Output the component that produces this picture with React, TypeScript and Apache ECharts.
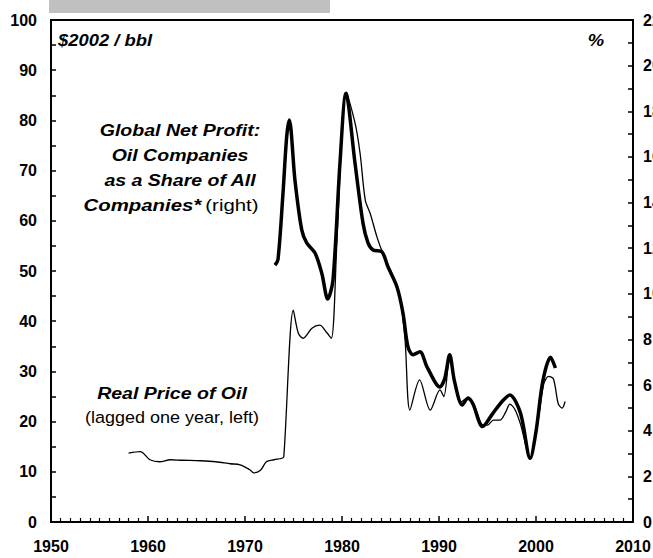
import React, { useEffect, useRef } from "react";
import * as echarts from "echarts";

// Real price of oil ($2002/bbl, lagged one year) – left axis
const priceYears = [
  1958.0, 1959.2, 1960.2, 1961.2, 1962.3, 1963.5, 1965.4, 1967.0, 1968.5, 1969.5,
  1970.5, 1970.9, 1971.6, 1972.2, 1973.0, 1973.8, 1974.0, 1974.98, 1975.5, 1976.0,
  1976.9, 1977.7, 1978.4, 1978.9, 1979.45, 1980.1, 1980.4, 1981.34, 1981.86, 1982.4,
  1982.9, 1983.6, 1984.2, 1985.3, 1986.0, 1986.5, 1987.0, 1988.0, 1989.1, 1990.1,
  1990.5, 1991.1, 1991.6, 1992.2, 1992.8, 1993.5, 1994.4, 1995.0, 1995.6, 1996.3,
  1996.9, 1997.3, 1997.8, 1998.4, 1999.4, 2000.2, 2000.8, 2001.3, 2001.8, 2002.3,
  2002.7, 2003.0,
];
const priceValues = [
  13.7, 14.0, 12.4, 12.0, 12.4, 12.3, 12.2, 12.0, 11.6, 11.4,
  10.4, 9.8, 10.3, 12.0, 12.4, 12.7, 13.0, 42.2, 37.6, 36.6,
  38.6, 39.2, 37.8, 36.6, 54.8, 81.5, 85.4, 79.5, 73.5, 64.1,
  61.5, 56.8, 53.6, 48.8, 44.2, 36.3, 22.3, 28.3, 22.3, 26.3,
  25.0, 32.9, 28.0, 23.8, 24.5, 23.8, 19.5, 19.3, 20.3, 20.3,
  22.0, 23.5, 22.5, 19.5, 12.7, 20.0, 27.5, 29.0, 28.5, 23.5,
  22.7, 24.0,
];

// Oil companies' share of global net profit (%) – right axis
const profitYears = [
  1973.09, 1973.4, 1973.9, 1974.3, 1974.57, 1975.15, 1975.85, 1976.36, 1977.22, 1977.91,
  1978.53, 1979.07, 1979.79, 1980.41, 1981.34, 1982.16, 1982.68, 1983.2, 1984.12, 1984.74,
  1985.67, 1986.29, 1986.8, 1987.32, 1988.04, 1988.76, 1990.1, 1990.6, 1991.1, 1991.6,
  1992.4, 1993.0, 1993.5, 1994.5, 1995.5, 1996.5, 1997.3, 1998.4, 1999.4, 2000.0,
  2000.7, 2001.5, 2002.0,
];
const profitValues = [
  11.26, 11.5, 14.3, 16.9, 17.62, 14.98, 12.8, 12.23, 11.79, 10.91,
  9.77, 10.6, 15.73, 18.79, 15.73, 13.11, 12.23, 11.92, 11.84, 11.18,
  10.3, 9.15, 7.68, 7.33, 7.46, 6.8, 5.92, 6.3, 7.33, 6.16,
  5.13, 5.43, 5.17, 4.18, 4.73, 5.28, 5.57, 4.77, 2.79, 3.96,
  6.16, 7.22, 6.75,
];

const xTicks = [1950, 2010, 10];
const leftRange = [0, 100, 10];
const rightRange = [0, 22, 2];

const FONT = "Arial, 'Liberation Sans', sans-serif";
const SX = 1.15;

export default function App() {
  const ref = useRef<HTMLDivElement>(null);
  useEffect(() => {
    if (!ref.current) return;
    document.body.style.margin = "0";
    document.body.style.overflow = "hidden";
    const chart = echarts.init(ref.current, undefined, { renderer: "svg" });
    const axisLabel = { color: "#000", fontWeight: "bold" as const, fontSize: 16, fontFamily: FONT };
    const boldItalic = `italic bold 17px ${FONT}`;
    const regular = `17px ${FONT}`;
    chart.setOption({
      animation: false,
      backgroundColor: "#fff",
      grid: {
        left: 51,
        right: 20,
        top: 20,
        bottom: 36,
        show: true,
        borderColor: "#000",
        borderWidth: 2,
        containLabel: false,
        outerBoundsMode: "none",
      },
      xAxis: {
        type: "value",
        min: xTicks[0],
        max: xTicks[1],
        interval: xTicks[2],
        axisLine: { show: true, lineStyle: { color: "#000", width: 2 } },
        axisTick: { show: true, inside: true, length: 6, lineStyle: { color: "#000", width: 1.5 } },
        minorTick: { show: true, splitNumber: 10, length: 4, lineStyle: { color: "#000", width: 1.2 } },
        splitLine: { show: false },
        axisLabel: { ...axisLabel, margin: 16, formatter: (v: number) => String(v) },
      },
      yAxis: [
        {
          type: "value",
          min: leftRange[0],
          max: leftRange[1],
          interval: leftRange[2],
          position: "left",
          axisLine: { show: true, lineStyle: { color: "#000", width: 2 } },
          axisTick: { show: true, inside: true, length: 5, lineStyle: { color: "#000", width: 1.5 } },
          minorTick: { show: true, splitNumber: 2, length: 5, lineStyle: { color: "#000", width: 1.5 } },
          splitLine: { show: false },
          axisLabel: { ...axisLabel, margin: 14 },
        },
        {
          type: "value",
          min: rightRange[0],
          max: rightRange[1],
          interval: rightRange[2],
          position: "right",
          axisLine: { show: true, lineStyle: { color: "#000", width: 2 } },
          axisTick: { show: true, inside: true, length: 5, lineStyle: { color: "#000", width: 1.5 } },
          minorTick: { show: true, splitNumber: 2, length: 5, lineStyle: { color: "#000", width: 1.5 } },
          splitLine: { show: false },
          axisLabel: { ...axisLabel, margin: 10 },
        },
      ],
      series: [
        {
          name: "Real Price of Oil",
          type: "line",
          yAxisIndex: 0,
          data: priceYears.map((y, i) => [y, priceValues[i]]),
          showSymbol: false,
          smooth: 0.3,
          lineStyle: { color: "#000", width: 1.3 },
          z: 2,
        },
        {
          name: "Global Net Profit: Oil Companies",
          type: "line",
          yAxisIndex: 1,
          data: profitYears.map((y, i) => [y, profitValues[i]]),
          showSymbol: false,
          smooth: 0.3,
          lineStyle: { color: "#000", width: 3.5 },
          z: 3,
        },
      ],
      graphic: [
        { type: "rect", left: 49, top: 0, shape: { width: 281, height: 13 }, style: { fill: "#c0c0c0" }, silent: true },
        {
          type: "text", x: 58, y: 40, scaleX: SX,
          style: { text: "$2002 / bbl", font: `italic bold 16px ${FONT}`, fill: "#000", textVerticalAlign: "middle" },
        },
        {
          type: "text", x: 604, y: 40, scaleX: SX,
          style: { text: "%", font: `italic bold 16px ${FONT}`, fill: "#000", textAlign: "right", textVerticalAlign: "middle" },
        },
        {
          type: "text", x: 180, y: 130, scaleX: SX,
          style: { text: "Global Net Profit:", font: boldItalic, fill: "#000", textAlign: "center", textVerticalAlign: "middle" },
        },
        {
          type: "text", x: 180, y: 155, scaleX: SX,
          style: { text: "Oil Companies", font: boldItalic, fill: "#000", textAlign: "center", textVerticalAlign: "middle" },
        },
        {
          type: "text", x: 180, y: 180, scaleX: SX,
          style: { text: "as a Share of All", font: boldItalic, fill: "#000", textAlign: "center", textVerticalAlign: "middle" },
        },
        {
          type: "text", x: 171, y: 205, scaleX: 1.2,
          style: {
            text: "{b|Companies*} {n|(right)}",
            fill: "#000",
            textAlign: "center",
            textVerticalAlign: "middle",
            rich: {
              b: { font: boldItalic, fill: "#000" },
              n: { font: regular, fill: "#000" },
            },
          },
        },
        {
          type: "text", x: 172, y: 393, scaleX: SX,
          style: { text: "Real Price of Oil", font: boldItalic, fill: "#000", textAlign: "center", textVerticalAlign: "middle" },
        },
        {
          type: "text", x: 172, y: 417, scaleX: 1.06,
          style: { text: "(lagged one year, left)", font: regular, fill: "#000", textAlign: "center", textVerticalAlign: "middle" },
        },
      ],
    });
    return () => chart.dispose();
  }, []);
  return (
    <div
      ref={ref}
      style={{ position: "absolute", left: 0, top: 0, width: 653, height: 558, background: "#fff" }}
    />
  );
}
